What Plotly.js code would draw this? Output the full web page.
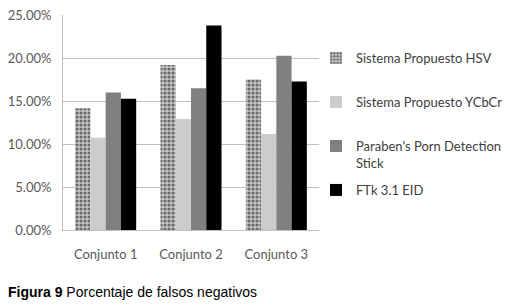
<!DOCTYPE html>
<html>
<head>
<meta charset="utf-8">
<script src="https://cdn.plot.ly/plotly-3.0.1.min.js"></script>
<style>html,body{margin:0;padding:0;background:#fff;}#chart{width:510px;height:305px;}</style>
</head>
<body>
<div id="chart"></div>
<script>
const categories = ['Conjunto 1', 'Conjunto 2', 'Conjunto 3'];
const seriesNames = ['Sistema Propuesto HSV', 'Sistema Propuesto YCbCr', "Paraben's Porn Detection<br>Stick", 'FTk 3.1 EID'];
const hsv = [0.1415, 0.1918, 0.1750];
const ycbcr = [0.1074, 0.1290, 0.1117];
const paraben = [0.1600, 0.1647, 0.2026];
const ftk = [0.1527, 0.2378, 0.1728];
const yTicks = [0, 0.05, 0.10, 0.15, 0.20, 0.25];
const caption = '<b>Figura 9</b> Porcentaje de falsos negativos';

const seriesValues = [hsv, ycbcr, paraben, ftk];
const colors = ['#c4c4c4', '#cccccc', '#808080', '#000000'];
const legendIds = ['legend', 'legend2', 'legend3', 'legend4'];
const traces = seriesValues.map((vals, i) => {
  const t = {
    type: 'bar', x: categories, y: vals, name: seriesNames[i],
    legend: legendIds[i],
    marker: { color: colors[i], line: { width: 0 } },
    hoverinfo: 'none'
  };
  if (i === 0) {
    t.marker.pattern = { shape: '.', bgcolor: '#c6c6c6', fgcolor: '#6a6a6a', size: 4, solidity: 0.5, fillmode: 'replace' };
  }
  return t;
});

// plot area: x 63..319, y 15..230 (px)
const px2x = v => (v - 63) / 256;
const px2y = v => (230 - v) / 215;
const legFont = { family: 'Lato, sans-serif', size: 13, color: '#404040' };
function leg(yc, anchor) {
  return {
    x: px2x(316), xanchor: 'left', y: px2y(yc), yanchor: anchor,
    valign: 'top', itemwidth: 30, font: legFont, bgcolor: 'rgba(0,0,0,0)', borderwidth: 0
  };
}

const layout = {
  width: 510, height: 305,
  margin: { l: 63, r: 191, t: 15, b: 75, autoexpand: false },
  paper_bgcolor: '#fff', plot_bgcolor: '#fff',
  barmode: 'group', bargap: 0.285, bargroupgap: 0,
  font: { family: 'Lato, sans-serif', size: 13, color: '#595959' },
  showlegend: true,
  legend: leg(58, 'middle'),
  legend2: leg(102, 'middle'),
  legend3: leg(154.5, 'middle'),
  legend4: leg(190, 'middle'),
  xaxis: {
    type: 'category', showline: true, linecolor: '#bfbfbf', linewidth: 1,
    ticks: 'outside', ticklen: 12, tickcolor: 'rgba(0,0,0,0)',
    showgrid: false, zeroline: false, fixedrange: true, automargin: false
  },
  yaxis: {
    range: [0, 0.25], tickvals: yTicks, tickformat: '.2%',
    showline: true, linecolor: '#bfbfbf', linewidth: 1,
    showgrid: true, gridcolor: '#c0c0c0', gridwidth: 1, zeroline: false,
    ticks: 'outside', ticklen: 8, tickcolor: 'rgba(0,0,0,0)', fixedrange: true, automargin: false
  },
  annotations: [{
    text: caption, xref: 'paper', yref: 'paper',
    x: px2x(6), xanchor: 'left', y: px2y(292), yanchor: 'middle',
    showarrow: false, font: { family: 'Liberation Sans, Arial, sans-serif', size: 14, color: '#000' }
  }]
};

Plotly.newPlot('chart', traces, layout, { displayModeBar: false, staticPlot: true });
</script>
</body>
</html>
